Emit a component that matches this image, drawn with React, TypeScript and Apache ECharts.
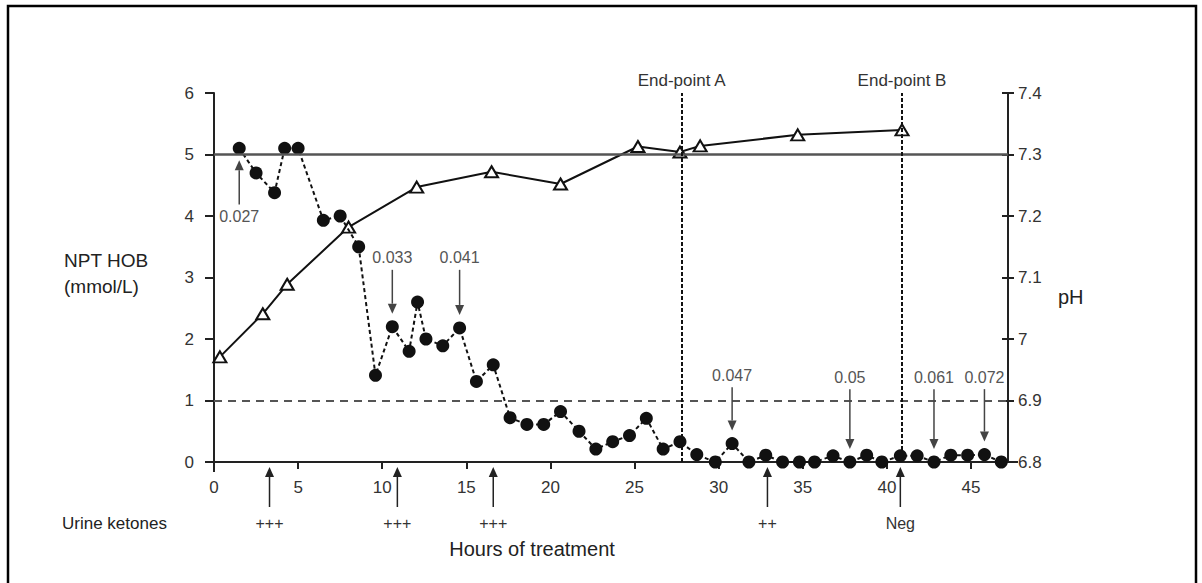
import React, { useEffect, useRef } from "react";
import * as echarts from "echarts";

// NPT HOB (mmol/L) — filled circles, dotted line
const hobHours = [1.5, 2.5, 3.6, 4.2, 5.0, 6.5, 7.5, 8.6, 9.6, 10.6, 11.6, 12.1, 12.6, 13.6, 14.6, 15.6, 16.6, 17.6, 18.6, 19.6, 20.6, 21.7, 22.7, 23.7, 24.7, 25.7, 26.7, 27.7, 28.7, 29.8, 30.8, 31.8, 32.8, 33.8, 34.8, 35.7, 36.8, 37.8, 38.8, 39.7, 40.8, 41.8, 42.8, 43.8, 44.8, 45.8, 46.8];
const hobValues = [5.1, 4.7, 4.38, 5.1, 5.1, 3.93, 4.0, 3.5, 1.41, 2.2, 1.8, 2.6, 2.0, 1.89, 2.18, 1.31, 1.58, 0.72, 0.61, 0.61, 0.82, 0.5, 0.21, 0.33, 0.43, 0.71, 0.21, 0.33, 0.12, 0.0, 0.3, 0.0, 0.11, 0.0, 0.0, 0.0, 0.1, 0.0, 0.11, 0.0, 0.1, 0.1, 0.0, 0.11, 0.11, 0.12, 0.0];

// pH — open triangles, solid line
const phHours = [0.35, 2.9, 4.35, 8.0, 12.05, 16.5, 20.6, 25.2, 27.7, 28.9, 34.7, 40.9];
const phValues = [6.971, 7.041, 7.089, 7.182, 7.247, 7.272, 7.252, 7.313, 7.304, 7.314, 7.332, 7.34];

// End points
const endPointHours = [27.8, 40.9];
const endPointLabels = ["End-point A", "End-point B"];

// Reference lines (left axis units)
const solidRefLine = 5;
const dashedRefLine = 1;

// P-value annotations: hour of the pointed dot, text, label height (left-axis units)
const annHours = [1.5, 10.6, 14.6, 30.8, 37.8, 42.8, 45.8];
const annLabels = ["0.027", "0.033", "0.041", "0.047", "0.05", "0.061", "0.072"];
const annLabelY = [3.99, 3.32, 3.32, 1.41, 1.38, 1.38, 1.38];

// Urine ketones
const ketoneHours = [3.3, 10.9, 16.6, 32.9, 40.8];
const ketoneLabels = ["+++", "+++", "+++", "++", "Neg"];

// Axis ticks
const xTicks = { min: 0, max: 47.2, interval: 5 };
const hobTicks = { min: 0, max: 6, interval: 1 };
const phTicks = { min: 6.8, max: 7.4, interval: 0.1 };

const FONT = "'Liberation Sans', Arial, sans-serif";

export default function App() {
  const ref = useRef<HTMLDivElement>(null);

  useEffect(() => {
    if (!ref.current) return;
    const chart = echarts.init(ref.current, undefined, { renderer: "svg" });

    const axisColor = "#222";
    const labelStyle = { fontSize: 17, color: "#333", fontFamily: FONT };

    const option: any = {
      animation: false,
      backgroundColor: "#fff",
      grid: { left: 214, right: 194, top: 93, bottom: 121 },
      xAxis: {
        type: "value",
        min: xTicks.min,
        max: xTicks.max,
        interval: xTicks.interval,
        axisLine: { show: true, lineStyle: { color: axisColor, width: 2 } },
        axisTick: { show: true, length: 7, lineStyle: { color: axisColor, width: 2 } },
        axisLabel: { ...labelStyle, margin: 17, showMaxLabel: false },
        splitLine: { show: false },
      },
      yAxis: [
        {
          type: "value",
          position: "left",
          min: hobTicks.min,
          max: hobTicks.max,
          interval: hobTicks.interval,
          axisLine: { show: true, lineStyle: { color: axisColor, width: 2 } },
          axisTick: { show: true, length: 9, lineStyle: { color: axisColor, width: 2 } },
          axisLabel: { ...labelStyle, margin: 20 },
          splitLine: { show: false },
        },
        {
          type: "value",
          position: "right",
          min: phTicks.min,
          max: phTicks.max,
          interval: phTicks.interval,
          axisLine: { show: true, lineStyle: { color: axisColor, width: 2 } },
          axisTick: { show: true, length: 6, lineStyle: { color: axisColor, width: 2 } },
          axisLabel: { ...labelStyle, margin: 10 },
          splitLine: { show: false },
        },
        {
          type: "value",
          position: "right",
          min: phTicks.min,
          max: phTicks.max,
          interval: phTicks.interval,
          axisLine: { show: false },
          axisTick: { show: true, inside: true, length: 6, lineStyle: { color: axisColor, width: 2 } },
          axisLabel: { show: false },
          splitLine: { show: false },
        },
      ],
      series: [
        {
          name: "pH",
          type: "line",
          xAxisIndex: 0,
          yAxisIndex: 1,
          data: phHours.map((h, i) => [h, phValues[i]]),
          symbol: "triangle",
          symbolSize: [13, 11],
          itemStyle: { color: "#fff", borderColor: "#111", borderWidth: 2 },
          lineStyle: { color: "#111", width: 2 },
          z: 3,
        },
        {
          name: "NPT HOB",
          type: "line",
          xAxisIndex: 0,
          yAxisIndex: 0,
          data: hobHours.map((h, i) => [h, hobValues[i]]),
          symbol: "circle",
          symbolSize: 13,
          itemStyle: { color: "#111" },
          lineStyle: { color: "#111", width: 2, type: [4, 3] },
          z: 4,
          markLine: {
            silent: true,
            symbol: "none",
            animation: false,
            data: [
              { yAxis: solidRefLine, lineStyle: { color: "#555", width: 2.5, type: "solid" }, label: { show: false } },
              { yAxis: dashedRefLine, lineStyle: { color: "#555", width: 2, type: [8, 6] }, label: { show: false } },
              ...endPointHours.map((h, i) => ({
                xAxis: h,
                lineStyle: { color: "#111", width: 2, type: [4, 2] },
                label: {
                  show: true,
                  position: "end",
                  formatter: endPointLabels[i],
                  fontSize: 17,
                  color: "#333",
                  fontFamily: FONT,
                  distance: 4,
                },
              })),
            ],
          },
        },
      ],
    };
    chart.setOption(option);

    const px = (x: number, y: number) =>
      chart.convertToPixel({ xAxisIndex: 0, yAxisIndex: 0 }, [x, y]) as number[];

    const arrow = (x: number, yTail: number, yTip: number, color: string) => {
      const dir = yTip > yTail ? 1 : -1;
      const headLen = 10;
      const headW = 4.5;
      return [
        {
          type: "line",
          shape: { x1: x, y1: yTail, x2: x, y2: yTip - dir * headLen },
          style: { stroke: color, lineWidth: 1.5 },
          z: 10,
        },
        {
          type: "polygon",
          shape: {
            points: [
              [x, yTip],
              [x - headW, yTip - dir * headLen],
              [x + headW, yTip - dir * headLen],
            ],
          },
          style: { fill: color },
          z: 10,
        },
      ];
    };

    const graphics: any[] = [];

    // Frame
    graphics.push({
      type: "rect",
      shape: { x: 8, y: 6, width: 1188, height: 640 },
      style: { fill: "none", stroke: "#000", lineWidth: 2.5 },
      z: 0,
    });

    // Axis line overhangs (x axis extends past both y axes; left y axis extends below)
    const origin = px(xTicks.min, 0);
    const endX = px(xTicks.max, 0);
    graphics.push({
      type: "line",
      shape: { x1: origin[0] - 9, y1: origin[1], x2: endX[0] + 10, y2: origin[1] },
      style: { stroke: axisColor, lineWidth: 2 },
      z: 1,
    });
    graphics.push({
      type: "line",
      shape: { x1: origin[0], y1: origin[1], x2: origin[0], y2: origin[1] + 10 },
      style: { stroke: axisColor, lineWidth: 2 },
      z: 1,
    });

    // P-value annotations
    annHours.forEach((h, i) => {
      const idx = hobHours.indexOf(h);
      const dot = px(h, hobValues[idx]);
      const lab = px(h, annLabelY[i]);
      const below = lab[1] > dot[1];
      if (below) {
        graphics.push(...arrow(dot[0], lab[1] - 12, dot[1] + 12, "#444"));
      } else {
        graphics.push(...arrow(dot[0], lab[1] + 12, dot[1] - 13, "#444"));
      }
      graphics.push({
        type: "text",
        x: dot[0],
        y: lab[1],
        style: {
          text: annLabels[i],
          fontSize: 16,
          fontFamily: FONT,
          fill: "#555",
          align: "center",
          verticalAlign: "middle",
        },
        z: 10,
      });
    });

    // Urine ketone arrows + labels
    ketoneHours.forEach((h, i) => {
      const base = px(h, 0);
      graphics.push(...arrow(base[0], base[1] + 45, base[1] + 5, "#222"));
      graphics.push({
        type: "text",
        x: base[0],
        y: base[1] + 61,
        style: {
          text: ketoneLabels[i],
          fontSize: 16,
          fontFamily: FONT,
          fill: "#333",
          align: "center",
          verticalAlign: "middle",
        },
        z: 10,
      });
    });

    const texts = [
      { text: "Urine ketones", x: 62, y: 523, size: 17, align: "left" },
      { text: "Hours of treatment", x: 532, y: 549, size: 20, align: "center" },
      { text: "NPT HOB", x: 64, y: 260, size: 19, align: "left" },
      { text: "(mmol/L)", x: 64, y: 286, size: 19, align: "left" },
      { text: "pH", x: 1058, y: 297, size: 20, align: "left" },
    ];
    texts.forEach((t) =>
      graphics.push({
        type: "text",
        x: t.x,
        y: t.y,
        style: {
          text: t.text,
          fontSize: t.size,
          fontFamily: FONT,
          fill: "#222",
          align: t.align,
          verticalAlign: "middle",
        },
        z: 10,
      })
    );

    chart.setOption({ graphic: graphics });

    return () => chart.dispose();
  }, []);

  return (
    <div
      ref={ref}
      style={{ position: "absolute", left: 0, top: 0, width: 1202, height: 583, background: "#fff" }}
    />
  );
}
